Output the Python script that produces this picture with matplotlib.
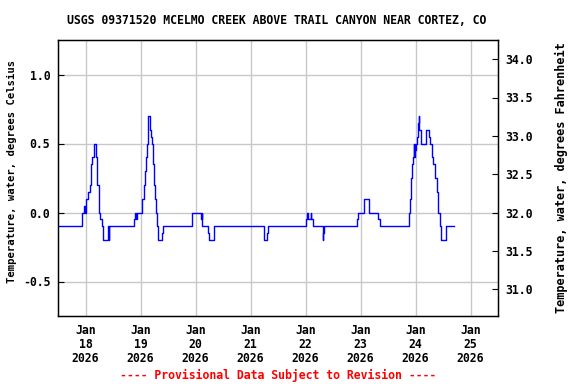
import matplotlib
matplotlib.use("Agg")
import matplotlib.pyplot as plt
import matplotlib.dates as mdates
import matplotlib.ticker as mticker
import pandas as pd

# Water temperature, step change points
# (hours after 2026-01-18 00:00, degrees Celsius)
start = pd.Timestamp("2026-01-18 00:00")
hours = [
    -12.0, -1.6, -0.5, -0.25, 0.4, 1.3, 1.75, 2.2, 2.6, 3.05, 3.5, 4.4, 4.8,
    5.2, 5.7, 6.1, 6.5, 7.1, 7.7, 9.7, 10.1, 10.4,
    21.1, 21.5, 21.9, 22.4, 24.6, 25.45, 25.9, 26.3, 26.8, 27.2, 28.1, 28.5,
    28.95, 29.4, 29.8, 30.25, 30.7, 31.1, 31.55, 33.3, 33.7,
    46.4, 50.2, 50.4, 50.55, 50.7, 50.8, 53.4, 53.8, 56.1,
    77.8, 79.1, 79.5,
    96.3, 96.7, 97.0, 98.2, 98.5, 99.2, 103.5, 103.75, 104.0,
    118.4, 119.1, 121.7, 123.5, 123.9, 127.85, 128.6,
    141.1, 141.7, 142.1, 142.5, 143.0, 143.2, 143.4, 143.6, 143.8, 144.3,
    144.7, 145.2, 145.45, 145.7, 146.2, 148.4, 150.1, 150.5, 151.0, 151.4,
    151.85, 152.3, 152.7, 153.2, 153.6, 154.0, 154.5, 154.9, 155.3, 157.1,
    157.5, 161.0,
]
temp_c = [
    -0.1, 0.0, 0.05, 0.0, 0.1, 0.15, 0.2, 0.3, 0.35, 0.4, 0.5, 0.4, 0.35,
    0.2, 0.1, 0.0, -0.05, -0.1, -0.2, -0.1, -0.2, -0.1,
    -0.05, 0.0, -0.05, 0.0, 0.1, 0.2, 0.3, 0.4, 0.5, 0.7, 0.6, 0.55,
    0.5, 0.35, 0.2, 0.1, 0.0, -0.1, -0.2, -0.15, -0.1,
    0.0, -0.05, 0.0, -0.05, 0.0, -0.1, -0.15, -0.2, -0.1,
    -0.2, -0.15, -0.1,
    -0.05, 0.0, -0.05, 0.0, -0.05, -0.1, -0.2, -0.15, -0.1,
    -0.05, 0.0, 0.1, 0.05, 0.0, -0.05, -0.1,
    0.0, 0.1, 0.25, 0.35, 0.4, 0.5, 0.4, 0.5, 0.45, 0.5,
    0.55, 0.65, 0.7, 0.6, 0.5, 0.6, 0.55, 0.5, 0.45, 0.4,
    0.35, 0.3, 0.25, 0.15, 0.05, 0.0, -0.05, -0.1, -0.2, -0.15,
    -0.1, -0.1,
]
c_ticks = [-0.5, 0.0, 0.5, 1.0]
f_ticks = [31.0, 31.5, 32.0, 32.5, 33.0, 33.5, 34.0]
c_lim = (-0.75, 1.25)

title = "USGS 09371520 MCELMO CREEK ABOVE TRAIL CANYON NEAR CORTEZ, CO"
note = "---- Provisional Data Subject to Revision ----"

font = {"family": "DejaVu Sans Mono", "weight": "bold", "size": 8.3}
plt.rcParams["font.family"] = "DejaVu Sans Mono"
plt.rcParams["font.weight"] = "bold"
plt.rcParams["font.size"] = 8.3

times = start + pd.to_timedelta(hours, unit="h")

fig = plt.figure(figsize=(5.76, 3.84), dpi=100)
ax = fig.add_axes([58 / 576, 1 - 316 / 384, 440 / 576, 276 / 384])

ax.step(times, temp_c, where="post", color="#0000ff", linewidth=1.0)

ax.set_xlim(start - pd.Timedelta(hours=12), start + pd.Timedelta(hours=180))
ax.set_ylim(*c_lim)
ax.xaxis.set_major_locator(mdates.DayLocator())
ax.xaxis.set_major_formatter(mdates.DateFormatter("%b\n%d\n%Y"))
ax.set_yticks(c_ticks)
ax.yaxis.set_major_formatter(mticker.FormatStrFormatter("%.1f"))
ax.grid(True, color="#c8c8c8", linewidth=1.0)
ax.set_axisbelow(True)
ax.tick_params(axis="y", direction="in", length=4, pad=5.5)
ax.tick_params(axis="x", length=0, pad=6)
for lab in ax.get_xticklabels():
    lab.set_linespacing(1.1)
for s in ax.spines.values():
    s.set_linewidth(1.0)

ax2 = ax.twinx()
ax2.set_ylim(c_lim[0] * 1.8 + 32, c_lim[1] * 1.8 + 32)
ax2.set_yticks(f_ticks)
ax2.yaxis.set_major_formatter(mticker.FormatStrFormatter("%.1f"))
ax2.tick_params(axis="y", direction="in", length=4, pad=5)

fig.text(277 / 576, 1 - 21 / 384, title, ha="center", va="center", **font)
fig.text(278 / 576, 1 - 375 / 384, note, ha="center", va="center",
         color="#ff0000", **font)
fig.text(12 / 576, 1 - 171 / 384, "Temperature, water, degrees Celsius",
         rotation=90, ha="center", va="center",
         family="DejaVu Sans Mono", weight="bold", size=7.6)
fig.text(561 / 576, 1 - 178 / 384, "Temperature, water, degrees Fahrenheit",
         rotation=90, ha="center", va="center",
         family="DejaVu Sans Mono", weight="bold", size=8.6)

fig.savefig("out.png", dpi=100)
